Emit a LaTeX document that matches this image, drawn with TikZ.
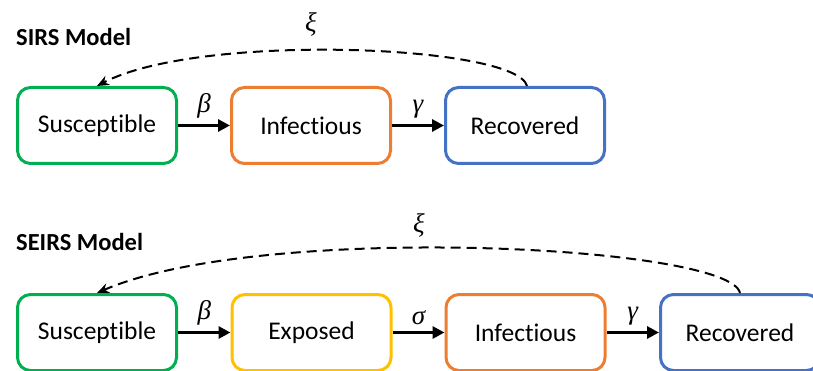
\documentclass[tikz,border=0pt]{standalone}
\usepackage{fontspec}
\setmainfont{Carlito}[Ligatures=NoCommon]
\newfontfamily\gkfont{Liberation Serif}
\usetikzlibrary{arrows.meta}
\definecolor{cgreen}{HTML}{00B050}
\definecolor{corange}{HTML}{ED7D31}
\definecolor{cyellow}{HTML}{FFC000}
\definecolor{cblue}{HTML}{4472C4}
\tikzset{
  box/.style={draw=#1, line width=3pt, rounded corners=13pt, minimum width=159pt, minimum height=76pt, inner sep=0pt, font=\fontsize{25.5}{30}\selectfont, fill=white, text=black},
  flow/.style={line width=3pt, -{Triangle[length=12pt,width=12pt]}},
  back/.style={line width=2pt, dash pattern=on 10pt off 6pt, -{Stealth[length=12pt,width=10pt]}},
  rate/.style={font=\gkfont\itshape\fontsize{27}{32}\selectfont, inner sep=0pt},
  title/.style={font=\fontsize{24.5}{29}\selectfont\bfseries, anchor=west, inner sep=0pt}
}
\begin{document}
\begin{tikzpicture}[x=1pt,y=-1pt]
\useasboundingbox (0,0) rectangle (813,371);
\clip (0,0) rectangle (813,371);
% SIRS
\node[title] (t1) at (16,37) {SIRS Model};
\node[box=cgreen] (s1) at (97,125.5) {\raisebox{-2pt}{Susceptible}};
\node[box=corange] (i1) at (311,125.5) {\raisebox{-2pt}{Infectious}};
\node[box=cblue] (r1) at (525,125.5) {\raisebox{-2pt}{Recovered}};
\draw[flow] (s1.east) -- (i1.west) node[rate, midway, above=6pt] (b1) {β};
\draw[flow] (i1.east) -- (r1.west) node[rate, midway, above=6pt] (g1) {γ};
\draw[back] ([xshift=2pt]r1.north) .. controls (517,45) and (200,32) .. (s1.north);
\node[rate] (x1) at (311,24) {ξ};
% SEIRS
\node[title] (t2) at (16,242) {SEIRS Model};
\node[box=cgreen] (s2) at (97,332.5) {\raisebox{-2pt}{Susceptible}};
\node[box=cyellow] (e2) at (311.5,332.5) {\raisebox{-2pt}{Exposed}};
\node[box=corange] (i2) at (525.5,332.5) {\raisebox{-2pt}{Infectious}};
\node[box=cblue] (r2) at (740,332.5) {\raisebox{-2pt}{Recovered}};
\draw[flow] (s2.east) -- (e2.west) node[rate, midway, above=6pt] (b2) {β};
\draw[flow] (e2.east) -- (i2.west) node[rate, midway, above=6pt] (sg2) {σ};
\draw[flow] (i2.east) -- (r2.west) node[rate, midway, above=6pt] (g2) {γ};
\draw[back] (r2.north) .. controls (730,245) and (260,222) .. (s2.north);
\node[rate] (x2) at (419,225) {ξ};
\end{tikzpicture}
\end{document}
